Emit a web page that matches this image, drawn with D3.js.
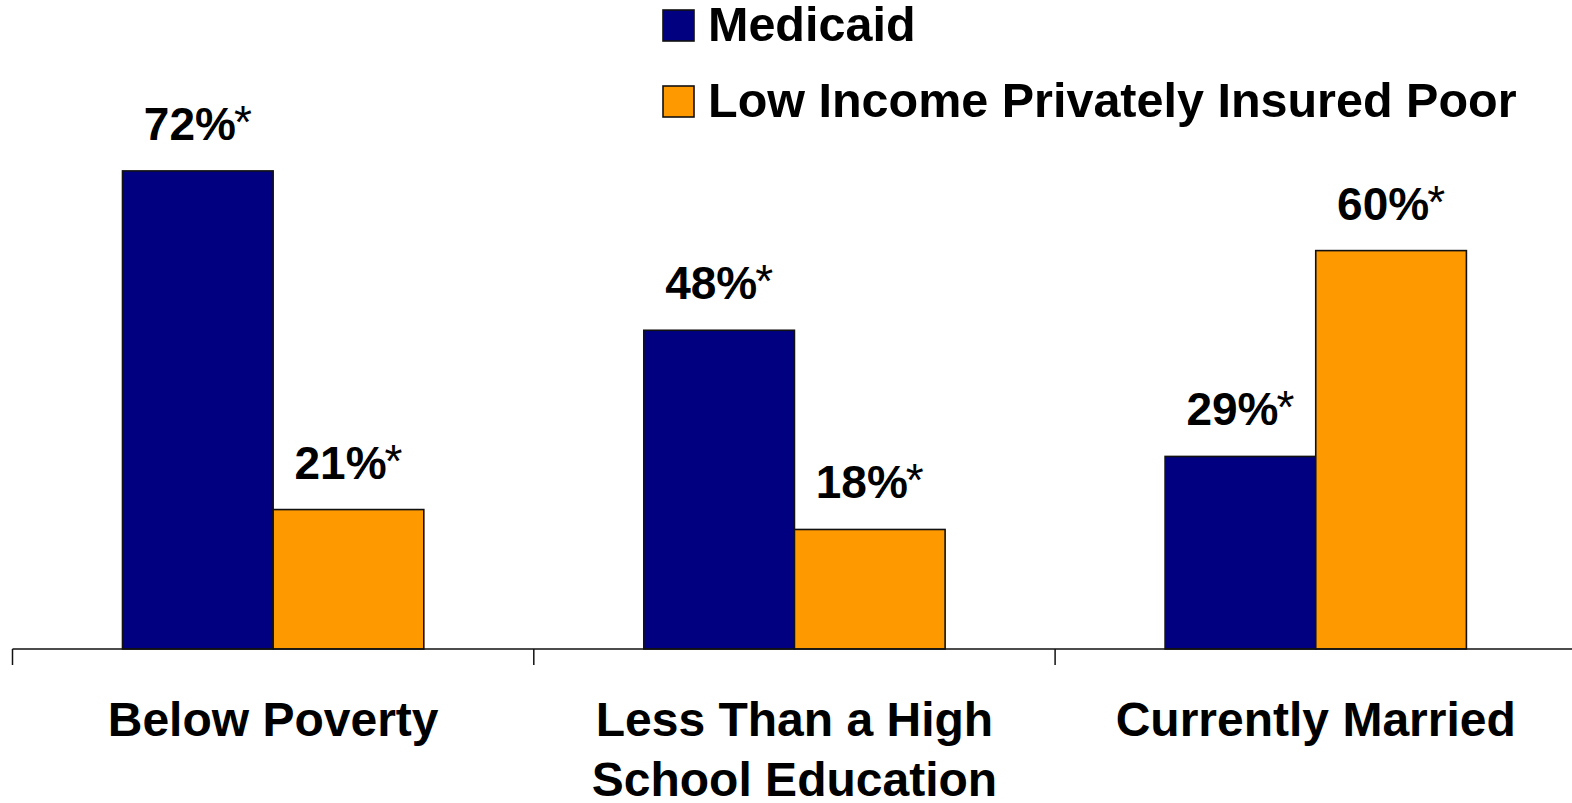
<!DOCTYPE html>
<html>
<head>
<meta charset="utf-8">
<script src="https://cdn.jsdelivr.net/npm/d3@7"></script>
<style>
  html, body { margin: 0; padding: 0; background: #fff; }
  svg { display: block; }
  text { font-family: "Liberation Sans", Arial, sans-serif; fill: #000; }
</style>
</head>
<body>
<svg id="chart" width="1572" height="803"></svg>
<script>
// Characteristics of adults by coverage group (percent)
const categories = [["Below Poverty"], ["Less Than a High", "School Education"], ["Currently Married"]];
const seriesNames = ["Medicaid", "Low Income Privately Insured Poor"];
const medicaid = [72, 48, 29];
const privateInsured = [21, 18, 60];
const labelSuffix = "*";

const colors = ["#000080", "#FF9900"];
const seriesValues = [medicaid, privateInsured];

const svg = d3.select("#chart");
const W = 1572;
const baseline = 649;

const keys = categories.map(c => c.join(" "));
const x0 = d3.scaleBand().domain(keys).range([12.5, 12.5 + 521.3 * 3]).padding(0);
const bw = x0.bandwidth();
const x1 = d3.scaleBand().domain(seriesNames).range([bw * 0.211, bw * 0.789]).padding(0);
const y = d3.scaleLinear().domain([0, 100]).range([baseline, baseline - 664]);

const rows = keys.map((k, i) => ({
  key: k,
  values: seriesNames.map((s, j) => ({ series: s, j, value: seriesValues[j][i] }))
}));

// Bars
const groups = svg.selectAll("g.group").data(rows).join("g")
  .attr("class", "group")
  .attr("transform", d => `translate(${x0(d.key)},0)`);

groups.selectAll("rect").data(d => d.values).join("rect")
  .attr("x", d => x1(d.series))
  .attr("y", d => y(d.value))
  .attr("width", x1.bandwidth())
  .attr("height", d => y(0) - y(d.value))
  .attr("fill", d => colors[d.j])
  .attr("stroke", "#111")
  .attr("stroke-width", 1.6);

// Value labels
const vl = groups.selectAll("text.val").data(d => d.values).join("text")
  .attr("class", "val")
  .attr("x", d => x1(d.series) + x1.bandwidth() / 2)
  .attr("y", d => y(d.value) - 31)
  .attr("text-anchor", "middle")
  .style("font-size", "46px")
  .style("font-weight", "bold");
vl.append("tspan").text(d => d.value + "%");
vl.append("tspan").style("font-weight", "normal").attr("dx", -2).attr("dy", -2).text(labelSuffix);

// Category axis
const axis = svg.append("g").attr("class", "axis");
axis.append("line")
  .attr("x1", x0(keys[0])).attr("x2", W)
  .attr("y1", baseline).attr("y2", baseline)
  .attr("stroke", "#111").attr("stroke-width", 1.5);
axis.selectAll("line.tick").data(keys).join("line")
  .attr("class", "tick")
  .attr("x1", d => x0(d)).attr("x2", d => x0(d))
  .attr("y1", baseline).attr("y2", baseline + 16)
  .attr("stroke", "#111").attr("stroke-width", 1.5);

const cl = axis.selectAll("text.cat").data(categories).join("text")
  .attr("class", "cat")
  .attr("x", (d, i) => x0(keys[i]) + bw / 2)
  .attr("y", 736)
  .attr("text-anchor", "middle")
  .style("font-size", "48px")
  .style("font-weight", "bold");
cl.selectAll("tspan").data(d => d).join("tspan")
  .attr("x", function () { return this.parentNode.getAttribute("x"); })
  .attr("dy", (d, i) => i === 0 ? 0 : 60)
  .text(d => d);

// Legend
const legend = svg.append("g").attr("class", "legend");
const li = legend.selectAll("g").data(seriesNames).join("g")
  .attr("transform", (d, i) => `translate(663,${10 + i * 76})`);
li.append("rect")
  .attr("width", 31).attr("height", 31)
  .attr("fill", (d, i) => colors[i])
  .attr("stroke", "#111").attr("stroke-width", 1.6);
li.append("text")
  .attr("x", 45).attr("y", 31)
  .style("font-size", "48.5px")
  .style("font-weight", "bold")
  .text(d => d);
</script>
</body>
</html>
